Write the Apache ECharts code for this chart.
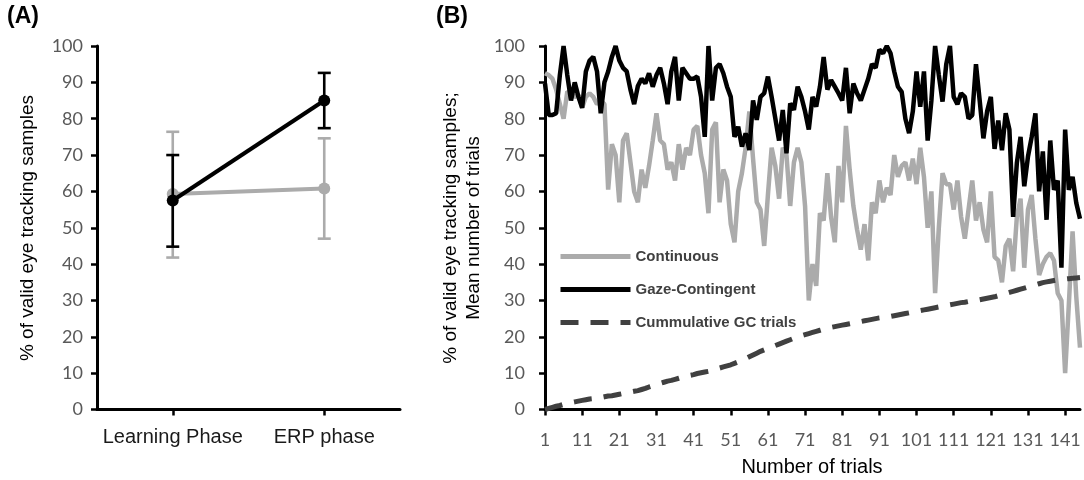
<!DOCTYPE html>
<html>
<head>
<meta charset="utf-8">
<script src="https://cdn.jsdelivr.net/npm/echarts@6/dist/echarts.min.js"></script>
<style>
html,body{margin:0;padding:0;background:#fff;}
#chart{width:1084px;height:480px;}
</style>
</head>
<body>
<div id="chart"></div>
<script>
// ---------- Panel A data ----------
const phases = ['Learning Phase', 'ERP phase'];
const contMean = [59.3, 60.8];
const contLow = [41.8, 47.0];
const contHigh = [76.4, 74.6];
const gcMean = [57.5, 85.0];
const gcLow = [44.8, 77.4];
const gcHigh = [70.0, 92.6];

// ---------- Panel B data ----------
const trialCount = 145;
const trials = Array.from({length: trialCount}, (_, i) => String(i + 1));
const continuous = [
  92.5, 92, 91, 88, 84, 80, 87.5, 87, 86, 86.5,
  83, 86, 87, 86, 84, 85, 84, 60.5, 73, 70,
  57, 74, 76, 68, 60, 57, 66, 61, 67, 74,
  81.5, 74, 73, 66, 68, 63, 73, 66, 72, 70,
  77, 78, 70, 65, 54, 77, 79, 57, 66, 63,
  51, 46, 60, 65, 72, 82, 69, 57, 55, 45,
  59, 72, 67, 58, 72, 70, 56, 68, 72, 68,
  56, 30, 40, 34, 54, 52, 65, 53, 46, 67,
  57, 78, 66, 56, 49.5, 44, 51, 41, 57, 54,
  63, 57, 61, 59, 70, 64, 67, 68, 63, 69,
  62, 72, 64, 50, 60, 32, 50, 65, 62, 62,
  55, 63, 53, 47, 55, 63, 52, 57, 49.5, 46,
  60, 42, 41, 35, 45, 47, 38, 53, 58, 39,
  55, 59, 47, 37, 40, 42, 43, 41, 32, 30,
  10, 29, 49, 31, 17
];
const gazeContingent = [
  89.7, 81, 81, 81.5, 92, 100, 92, 85, 90, 86,
  83, 93, 96, 97, 93, 81.5, 90, 93, 97, 100,
  96, 94, 93, 88, 84, 89, 91, 89.7, 92.5, 88.8,
  92, 94, 89.7, 84, 93, 97, 85, 94, 92.5, 91,
  91, 91.6, 86, 75, 100, 85, 94, 95, 92.5, 88.8,
  86, 75, 77.8, 72.3, 76, 71.4, 85, 79.7, 86, 87,
  91.6, 86, 80, 74, 82.4, 70.5, 84.2, 82.4, 88.8, 86,
  82, 77, 86, 83.3, 88.8, 97, 88, 90.6, 88.8, 87,
  85, 94, 81.5, 89.7, 87, 85, 88, 91, 95, 94,
  99, 98, 100, 98, 93, 88.8, 87.4, 80, 76, 82,
  93, 83.3, 93, 74, 85, 100, 92, 84.7, 95, 100,
  86, 84, 87, 86, 80, 81, 95, 85, 74.6, 82,
  86, 71.7, 79.5, 71.3, 81.5, 77, 53, 67.8, 75, 61.4,
  69.6, 75, 81.5, 60, 71, 52.2, 74, 60.4, 63, 39,
  77, 60.4, 64, 56.8, 52.5
];
const cumulativeGC = [
  0.0, 0.3, 0.6, 0.9, 1.1, 1.4, 1.6, 1.9, 2.1, 2.3,
  2.5, 2.7, 2.9, 3.0, 3.2, 3.3, 3.5, 3.7, 3.8, 4.0,
  4.2, 4.4, 4.6, 4.8, 5.0, 5.2, 5.5, 5.8, 6.2, 6.5,
  6.9, 7.2, 7.5, 7.8, 8.0, 8.3, 8.6, 8.9, 9.1, 9.4,
  9.6, 9.9, 10.1, 10.3, 10.5, 10.8, 11.1, 11.4, 11.7, 12.0,
  12.3, 12.7, 13.1, 13.5, 14.0, 14.5, 15.0, 15.5, 16.0, 16.4,
  16.8, 17.2, 17.6, 18.0, 18.4, 18.8, 19.2, 19.6, 20.0, 20.3,
  20.6, 20.9, 21.2, 21.5, 21.8, 22.1, 22.4, 22.6, 22.8, 23.0,
  23.2, 23.4, 23.6, 23.8, 24.0, 24.2, 24.4, 24.6, 24.8, 25.0,
  25.2, 25.3, 25.5, 25.6, 25.8, 26.0, 26.2, 26.4, 26.6, 26.8,
  27.0, 27.2, 27.4, 27.6, 27.8, 28.0, 28.2, 28.4, 28.6, 28.8,
  29.0, 29.2, 29.4, 29.5, 29.7, 29.9, 30.0, 30.2, 30.4, 30.6,
  30.8, 31.0, 31.3, 31.6, 31.9, 32.2, 32.5, 32.8, 33.1, 33.4,
  33.7, 34.0, 34.3, 34.6, 34.9, 35.1, 35.3, 35.5, 35.7, 35.8,
  35.9, 36.0, 36.1, 36.2, 36.3
];
const seriesNames = ['Continuous', 'Gaze-Contingent', 'Cummulative GC trials'];

// ---------- styles ----------
const GRAY = '#ababab';
const BLACK = '#000000';
const DASH = '#404040';
const TICK_COLOR = '#595959';
const tickFont = 'Lato, "Open Sans", sans-serif';
const textFont = '"Liberation Sans", Arial, sans-serif';

function errBar(color) {
  return function (params, api) {
    const x = api.value(0);
    const lo = api.coord([x, api.value(1)]);
    const hi = api.coord([x, api.value(2)]);
    const w = 6.5;
    const st = {stroke: color, lineWidth: 2.6};
    return {
      type: 'group',
      children: [
        {type: 'line', shape: {x1: lo[0], y1: lo[1], x2: hi[0], y2: hi[1]}, style: st},
        {type: 'line', shape: {x1: lo[0] - w, y1: lo[1], x2: lo[0] + w, y2: lo[1]}, style: st},
        {type: 'line', shape: {x1: hi[0] - w, y1: hi[1], x2: hi[0] + w, y2: hi[1]}, style: st}
      ]
    };
  };
}

const axisLine = {show: true, lineStyle: {color: '#000', width: 3}};
const yTick = {show: true, length: 6, lineStyle: {color: '#000', width: 2.5}};

const chart = echarts.init(document.getElementById('chart'), null, {renderer: 'canvas'});
chart.setOption({
  animation: false,
  backgroundColor: '#fff',
  grid: [
    {left: 97, top: 46, width: 303, height: 363.5},
    {left: 545, top: 46, width: 535, height: 363.5}
  ],
  xAxis: [
    {
      type: 'category', gridIndex: 0, data: phases, boundaryGap: true,
      axisLine: axisLine,
      axisTick: {show: true, alignWithLabel: true, interval: 0, length: 6, lineStyle: {color: '#000', width: 2.5}},
      axisLabel: {interval: 0, hideOverlap: false, color: '#1a1a1a', fontFamily: textFont, fontSize: 20, margin: 18},
      splitLine: {show: false}
    },
    {
      type: 'category', gridIndex: 1, data: trials, boundaryGap: false,
      axisLine: axisLine,
      axisTick: {show: true, interval: 9, length: 6, lineStyle: {color: '#000', width: 2.5}},
      axisLabel: {interval: 9, color: TICK_COLOR, fontFamily: tickFont, fontSize: 18, margin: 22},
      splitLine: {show: false}
    }
  ],
  yAxis: [
    {
      type: 'value', gridIndex: 0, min: 0, max: 100, interval: 10,
      axisLine: axisLine, axisTick: yTick,
      axisLabel: {color: TICK_COLOR, fontFamily: tickFont, fontSize: 18, margin: 14},
      splitLine: {show: false}
    },
    {
      type: 'value', gridIndex: 1, min: 0, max: 100, interval: 10,
      axisLine: axisLine, axisTick: yTick,
      axisLabel: {color: TICK_COLOR, fontFamily: tickFont, fontSize: 18, margin: 20},
      splitLine: {show: false}
    }
  ],
  legend: {
    orient: 'vertical', left: 558, top: 249, padding: 0,
    itemWidth: 70, itemHeight: 14, itemGap: 18,
    data: seriesNames,
    itemStyle: {opacity: 0},
    lineStyle: {width: 5},
    textStyle: {color: '#404040', fontFamily: textFont, fontSize: 15, fontWeight: 'bold'}
  },
  graphic: [
    {type: 'text', left: 7, top: 5, style: {text: '(A)', font: 'bold 23px "Liberation Sans", Arial, sans-serif', fill: '#000'}},
    {type: 'text', left: 436, top: 5, style: {text: '(B)', font: 'bold 23px "Liberation Sans", Arial, sans-serif', fill: '#000'}},
    {type: 'text', x: 28, y: 228, rotation: Math.PI / 2,
      style: {text: '% of valid eye tracking samples', font: '19px "Liberation Sans", Arial, sans-serif', fill: '#000', align: 'center', verticalAlign: 'middle'}},
    {type: 'text', x: 462, y: 228, rotation: Math.PI / 2,
      style: {text: '% of valid eye tracking samples;\nMean number of trials', font: '19px "Liberation Sans", Arial, sans-serif', lineHeight: 23, fill: '#000', align: 'center', verticalAlign: 'middle'}},
    {type: 'text', x: 812, y: 467,
      style: {text: 'Number of trials', font: '20px "Liberation Sans", Arial, sans-serif', fill: '#000', align: 'center', verticalAlign: 'middle'}}
  ],
  series: [
    // Panel A
    {type: 'custom', xAxisIndex: 0, yAxisIndex: 0, renderItem: errBar(GRAY),
      data: phases.map((p, i) => [i, contLow[i], contHigh[i]]), encode: {x: 0, y: [1, 2]}, z: 2},
    {type: 'line', xAxisIndex: 0, yAxisIndex: 0, data: contMean, symbol: 'circle', symbolSize: 12,
      lineStyle: {color: GRAY, width: 4}, itemStyle: {color: GRAY}, z: 3},
    {type: 'custom', xAxisIndex: 0, yAxisIndex: 0, renderItem: errBar(BLACK),
      data: phases.map((p, i) => [i, gcLow[i], gcHigh[i]]), encode: {x: 0, y: [1, 2]}, z: 4},
    {type: 'line', xAxisIndex: 0, yAxisIndex: 0, data: gcMean, symbol: 'circle', symbolSize: 12,
      lineStyle: {color: BLACK, width: 4}, itemStyle: {color: BLACK}, z: 5},
    // Panel B
    {name: seriesNames[0], type: 'line', xAxisIndex: 1, yAxisIndex: 1, data: continuous, symbol: 'none',
      lineStyle: {color: GRAY, width: 4.5}, itemStyle: {color: GRAY}, z: 3},
    {name: seriesNames[1], type: 'line', xAxisIndex: 1, yAxisIndex: 1, data: gazeContingent, symbol: 'none',
      lineStyle: {color: BLACK, width: 4.5}, itemStyle: {color: BLACK}, z: 4},
    {name: seriesNames[2], type: 'line', xAxisIndex: 1, yAxisIndex: 1, data: cumulativeGC, symbol: 'none',
      lineStyle: {color: DASH, width: 5, type: [18, 12]}, itemStyle: {color: DASH}, z: 5}
  ]
});
</script>
</body>
</html>
